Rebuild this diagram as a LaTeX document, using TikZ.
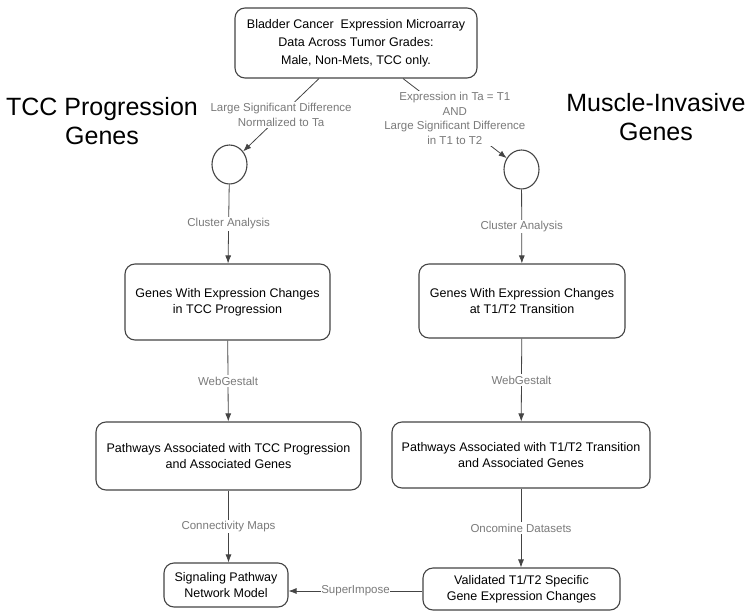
\documentclass[tikz,border=0pt]{standalone}
\usepackage{fontspec}
\setmainfont{Liberation Sans}
\usepackage{tikz}
\usetikzlibrary{shapes.geometric}
\usetikzlibrary{arrows.meta}
\definecolor{edgegray}{HTML}{444444}
\definecolor{labelgray}{HTML}{7A7A7A}

\begin{document}
\begin{tikzpicture}[x=1pt, y=-1pt,
    box/.style={draw=edgegray, line width=1.1pt, rounded corners=10pt, align=center, inner sep=0pt, font=\fontsize{12.5}{16}\selectfont},
    bubble/.style={draw=edgegray, line width=1.1pt, ellipse, minimum width=35pt, minimum height=39pt, inner sep=0pt},
    flow/.style={-{Latex[length=8pt,width=6pt]}, draw=edgegray, line width=0.8pt},
    lbl/.style={fill=white, text=labelgray, align=center, inner sep=1.5pt, font=\fontsize{11.5}{14.5}\selectfont},
    title/.style={align=center, font=\fontsize{25}{29}\selectfont}]
		\useasboundingbox (0,0) rectangle (754,615);
		% headings
		\node[title] (titleL) at (102,121) {TCC Progression\\Genes};
		\node[title] (titleR) at (656,117) {Muscle-Invasive\\Genes};
		% boxes
		\node[box, minimum width=242pt, minimum height=70pt, font=\fontsize{12.5}{18}\selectfont] (data) at (356,43) {Bladder Cancer\ \ Expression Microarray\\Data Across Tumor Grades:\\Male, Non-Mets, TCC only.};
		\node[bubble] (clusL) at (229.5,164.5) {};
		\node[bubble] (clusR) at (521.5,169.5) {};
		\node[box, minimum width=205pt, minimum height=76pt] (genesL) at (227.5,302) {Genes With Expression Changes\\in TCC Progression};
		\node[box, minimum width=206pt, minimum height=74pt] (genesR) at (522,301) {Genes With Expression Changes\\at T1/T2 Transition};
		\node[box, minimum width=265pt, minimum height=68pt] (pathL) at (228.5,456) {Pathways Associated with TCC Progression\\and Associated Genes};
		\node[box, minimum width=258pt, minimum height=66pt] (pathR) at (521,455) {Pathways Associated with T1/T2 Transition\\and Associated Genes};
		\node[box, minimum width=124pt, minimum height=44pt] (model) at (226,585) {Signaling Pathway\\Network Model};
		\node[box, minimum width=197pt, minimum height=42pt] (valid) at (521.5,589) {Validated T1/T2 Specific\\Gene Expression Changes};
		% connectors
		\draw[flow] ([xshift=-37pt]data.south) -- (clusL) node[lbl, midway] {Large Significant Difference\\Normalized to Ta};
		\draw[flow] ([xshift=47pt]data.south) -- (clusR) node[lbl, midway] {Expression in Ta = T1\\AND\\Large Significant Difference\\in T1 to T2};
		\draw[flow] (clusL) -- (genesL) node[lbl, midway] {Cluster Analysis};
		\draw[flow] (clusR) -- (genesR) node[lbl, midway] {Cluster Analysis};
		\draw[flow] (genesL) -- (pathL) node[lbl, midway] {WebGestalt};
		\draw[flow] (genesR) -- (pathR) node[lbl, midway] {WebGestalt};
		\draw[flow] (pathL) -- (pathL |- model.north) node[lbl, midway] {Connectivity Maps};
		\draw[flow] (pathR) -- (pathR |- valid.north) node[lbl, midway] {Oncomine Datasets};
		\draw[flow] ([yshift=-2pt]valid.west) -- ([yshift=-2pt]valid.west -| model.east) node[lbl, midway, inner sep=0.5pt] {SuperImpose};
	\end{tikzpicture}
\end{document}
